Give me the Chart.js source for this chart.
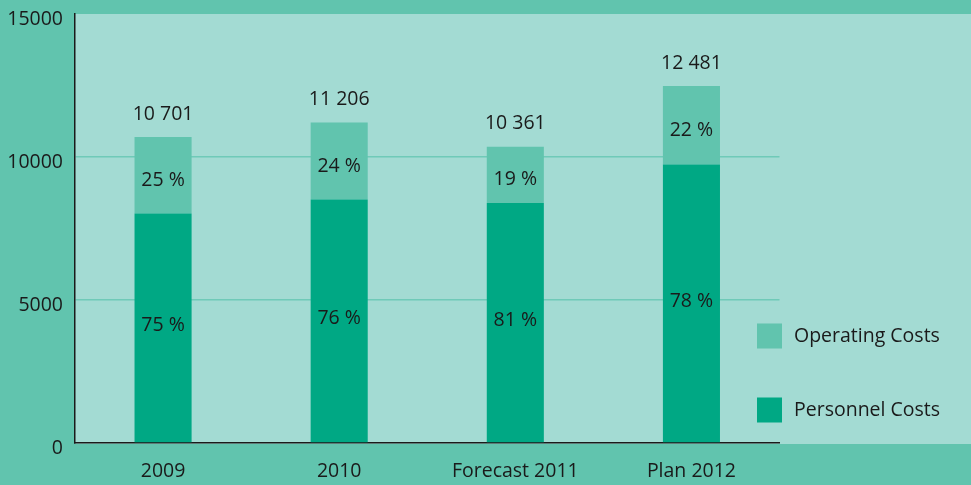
<!DOCTYPE html>
<html>
<head>
<meta charset="utf-8">
<script src="https://cdn.jsdelivr.net/npm/chart.js@4.4.1/dist/chart.umd.min.js"></script>
<style>
  html, body { margin: 0; padding: 0; background: #61c4ae; }
  #wrap { width: 971px; height: 485px; }
</style>
</head>
<body>
<div id="wrap"><canvas id="costs"></canvas></div>
<script>
// data
const categories = ["2009", "2010", "Forecast 2011", "Plan 2012"];
const personnel_costs = [8026, 8517, 8392, 9735];
const operating_costs = [2675, 2689, 1969, 2746];
const totals = ["10 701", "11 206", "10 361", "12 481"];
const personnel_pct = ["75 %", "76 %", "81 %", "78 %"];
const operating_pct = ["25 %", "24 %", "19 %", "22 %"];
const y_ticks = [0, 5000, 10000, 15000];

const outer_bg = "#61c4ae";
const plot_bg = "#a3dbd3";
const dark_green = "#00a884";
const light_green = "#61c4ae";
const text_colour = "#1a1a1a";
const font_family = "'Open Sans', 'Noto Sans', sans-serif";
const font_size = 19.5;

// paint the two background tones
const backgroundPlugin = {
  id: "backgroundPlugin",
  beforeDraw(chart) {
    const { ctx, chartArea } = chart;
    ctx.save();
    ctx.fillStyle = outer_bg;
    ctx.fillRect(0, 0, chart.width, chart.height);
    ctx.fillStyle = plot_bg;
    ctx.fillRect(chartArea.left, chartArea.top, chart.width - chartArea.left, chartArea.bottom - chartArea.top + 1);
    ctx.restore();
  }
};

// percentages inside the segments, totals above bars, and the legend
const labelPlugin = {
  id: "labelPlugin",
  afterDatasetsDraw(chart) {
    const { ctx } = chart;
    ctx.save();
    ctx.fillStyle = text_colour;
    ctx.font = font_size + "px " + font_family;
    ctx.textAlign = "center";
    ctx.textBaseline = "middle";

    const pMeta = chart.getDatasetMeta(0);
    const oMeta = chart.getDatasetMeta(1);
    pMeta.data.forEach((bar, i) => {
      ctx.fillText(personnel_pct[i], bar.x, (bar.y + bar.base) / 2 - 2);
    });
    oMeta.data.forEach((bar, i) => {
      ctx.fillText(operating_pct[i], bar.x, (bar.y + bar.base) / 2 + 5);
      ctx.fillText(totals[i], bar.x, bar.y - 23);
    });

    // legend
    const items = [
      { label: "Operating Costs", colour: light_green, y: 336 },
      { label: "Personnel Costs", colour: dark_green, y: 410 }
    ];
    ctx.textAlign = "left";
    items.forEach(item => {
      ctx.fillStyle = item.colour;
      ctx.fillRect(757, item.y - 12.5, 25, 25);
      ctx.fillStyle = text_colour;
      ctx.fillText(item.label, 794, item.y);
    });
    ctx.restore();
  }
};

new Chart(document.getElementById("costs"), {
  type: "bar",
  data: {
    labels: categories,
    datasets: [
      {
        label: "Personnel Costs",
        data: personnel_costs,
        backgroundColor: dark_green,
        barPercentage: 0.81,
        categoryPercentage: 0.4
      },
      {
        label: "Operating Costs",
        data: operating_costs,
        backgroundColor: light_green,
        barPercentage: 0.81,
        categoryPercentage: 0.4
      }
    ]
  },
  options: {
    responsive: true,
    maintainAspectRatio: false,
    animation: false,
    layout: {
      padding: { top: 14, right: 191.5, left: 0, bottom: 0 }
    },
    plugins: {
      legend: { display: false },
      tooltip: { enabled: false }
    },
    scales: {
      x: {
        stacked: true,
        grid: { display: false, drawTicks: false },
        border: { color: "#1a1a1a", width: 1.5 },
        ticks: {
          color: text_colour,
          font: { family: font_family, size: font_size },
          padding: 17
        },
        afterFit(scale) { scale.height = 42; }
      },
      y: {
        stacked: true,
        min: 0,
        max: 15000,
        afterBuildTicks(scale) {
          scale.ticks = y_ticks.map(v => ({ value: v }));
        },
        grid: {
          drawTicks: false,
          lineWidth: 1.5,
          color: (ctx) => (ctx.tick && (ctx.tick.value === 5000 || ctx.tick.value === 10000)) ? "#6fcab8" : "rgba(0,0,0,0)"
        },
        border: { color: "#1a1a1a", width: 1.5 },
        ticks: {
          color: text_colour,
          font: { family: font_family, size: font_size },
          padding: 12,
          labelOffset: 5,
          callback: (value) => String(value)
        },
        afterFit(scale) {
          scale.width = 75;
          scale.paddingTop = 0;
          scale.paddingBottom = 0;
        }
      }
    }
  },
  plugins: [backgroundPlugin, labelPlugin]
});
</script>
</body>
</html>
